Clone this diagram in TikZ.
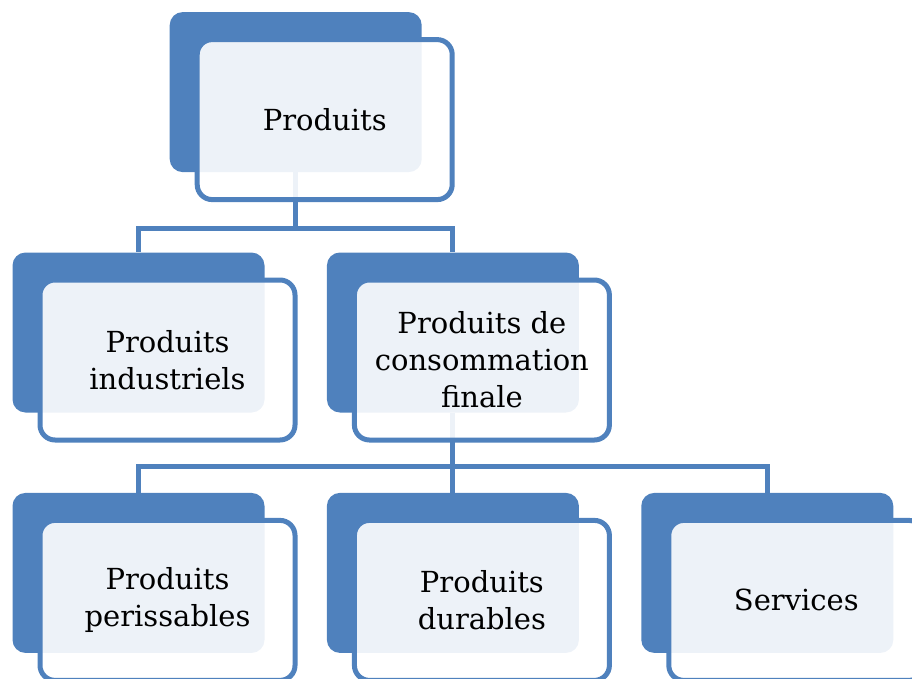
\documentclass[tikz,border=0pt]{standalone}
\usepackage{fontspec}
\setmainfont{DejaVu Serif}
\usetikzlibrary{positioning,calc}
\definecolor{boxblue}{HTML}{4F81BD}

\begin{document}
\begin{tikzpicture}[
  x=1pt, y=1pt,
  node distance=80pt and 62pt,
  backbox/.style={fill=boxblue, rounded corners=13pt, inner sep=0pt,
    minimum width=252pt, minimum height=160pt},
  frontbox/.style={draw=boxblue, line width=5pt, fill=white, fill opacity=0.9,
    text opacity=1, rounded corners=15pt, minimum width=255pt, minimum height=160pt,
    align=center, font=\fontsize{29}{37}\selectfont},
  link/.style={draw=boxblue, line width=5pt}
]
\useasboundingbox (0,0) rectangle (912,-679);
\clip (0,0) rectangle (912,-679);

% --- Layout (back boxes)
\node[backbox] (b-ind) at (138.5,-332.5) {};
\node[backbox, right=of b-ind] (b-cons) {};
\coordinate (top-mid) at ($(b-ind.north)!0.5!(b-cons.north)$);
\node[backbox, above=of top-mid] (b-prod) {};

\node[backbox, below=of b-ind] (b-per) {};
\node[backbox, right=of b-per] (b-dur) {};
\node[backbox, right=of b-dur] (b-serv) {};

% --- Connectors
\coordinate (j-prod) at ($(b-prod.south)+(0,-56)$);
\draw[link] (b-prod.south) -- (j-prod) -| (b-ind.north);
\draw[link] (j-prod) -| (b-cons.north);

\coordinate (j-cons) at ($(b-cons.south)+(0,-54)$);
\draw[link] (b-cons.south) -- (j-cons) -| (b-per.north);
\draw[link] (j-cons) -- (b-dur.north);
\draw[link] (j-cons) -| (b-serv.north);

% --- Front boxes with labels
\foreach \n/\t in {prod/Produits, ind/{Produits\\industriels},
    cons/{Produits de\\consommation\\finale}, per/{Produits\\perissables},
    dur/{Produits\\durables}, serv/Services}
  \node[frontbox] (f-\n) at ($(b-\n)+(29,-27.5)$) {\t};

\end{tikzpicture}
\end{document}
